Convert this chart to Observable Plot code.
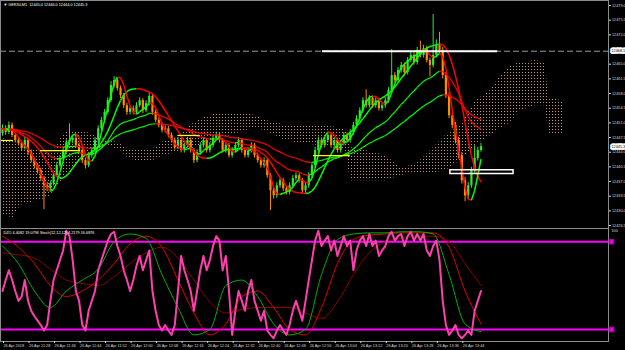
<!DOCTYPE html>
<html><head><meta charset="utf-8">
<script src="https://cdn.jsdelivr.net/npm/d3@7"></script>
<script src="https://cdn.jsdelivr.net/npm/@observablehq/plot@0.6"></script>
<style>
html,body{margin:0;padding:0;background:#000;}
#chart{width:625px;height:350px;background:#000;overflow:hidden;}
#chart svg{display:block;}
</style></head><body><div id="chart"></div>
<script>
// ---------- data ----------
const symbolTitle = "\u25BC GER30,M1  12445.0 12446.0 12444.0 12445.3";
const oscTitle = "DZO 4.4082 19.0796 Stoch(12,12,12) 4.2179 16.6876";
const tickBars = [0,8,16,24,32,40,48,56,64,72,80,88,96,104,112,120,128,136,144];
const timeLabels = ["26 Apr 2018","26 Apr 11:28","26 Apr 11:36","26 Apr 11:44","26 Apr 11:52","26 Apr 12:00","26 Apr 12:08","26 Apr 12:16","26 Apr 12:24","26 Apr 12:32","26 Apr 12:40","26 Apr 12:48","26 Apr 12:56","26 Apr 13:04","26 Apr 13:12","26 Apr 13:20","26 Apr 13:28","26 Apr 13:36","26 Apr 13:44"];
const priceTicks = [12479.0,12475.5,12472.0,12465.0,12461.5,12458.0,12454.5,12451.0,12447.5,12444.0,12440.5,12437.0,12433.5,12430.0,12426.5];
const firstOpen = 12448.5;
const closes = [12449.6,12448.7,12450.4,12448.0,12446.8,12446.1,12444.9,12446.8,12443.9,12442.0,
12440.8,12439.6,12437.7,12436.0,12435.3,12436.5,12438.4,12440.8,12442.5,12444.4,
12446.3,12446.8,12447.3,12445.6,12444.4,12442.0,12440.8,12443.2,12444.4,12446.8,
12449.6,12451.6,12453.5,12456.3,12459.9,12461.1,12459.2,12457.5,12455.1,12453.5,
12454.4,12453.5,12455.1,12456.3,12453.9,12455.6,12457.3,12453.5,12451.6,12450.4,
12449.2,12449.6,12448.0,12446.8,12445.1,12446.8,12444.4,12445.6,12446.8,12444.4,
12442.0,12443.9,12445.6,12446.8,12444.4,12445.6,12447.3,12448.0,12446.8,12444.4,
12445.6,12443.2,12444.4,12445.6,12446.8,12444.4,12443.2,12444.4,12445.6,12443.2,
12442.0,12440.8,12442.0,12438.4,12434.8,12433.6,12436.0,12437.2,12435.3,12434.4,
12436.0,12437.7,12438.4,12437.2,12434.8,12436.0,12438.4,12440.8,12444.4,12446.8,
12445.6,12446.8,12448.0,12445.6,12446.8,12444.4,12446.1,12448.0,12446.8,12448.7,
12450.4,12452.0,12453.9,12456.3,12455.1,12456.8,12455.1,12456.3,12454.4,12455.1,
12456.3,12458.7,12462.3,12461.1,12463.5,12464.7,12463.0,12465.9,12467.1,12465.4,
12468.3,12467.1,12468.7,12465.9,12464.7,12467.1,12469.5,12468.3,12462.3,12457.5,
12452.7,12450.4,12446.8,12443.2,12437.2,12433.6,12436.0,12439.6,12442.5,12444.4,
12445.3];
const highs = [12450.5,12450.3,12451.2,12451.0,12448.6,12447.5,12446.6,12447.6,12447.2,12444.5,
12442.6,12441.3,12440.2,12438.3,12436.8,12437.1,12439.0,12441.5,12443.2,12445.0,
12447.0,12450.8,12448.0,12447.9,12446.2,12445.0,12442.6,12443.9,12445.0,12447.5,
12450.3,12452.3,12454.2,12457.0,12460.8,12462.0,12461.7,12459.8,12458.0,12455.7,
12455.0,12455.0,12455.8,12457.0,12456.8,12456.3,12458.2,12457.8,12454.0,12452.2,
12451.0,12450.3,12450.2,12448.6,12447.4,12447.5,12447.3,12446.2,12447.5,12447.4,
12444.9,12444.6,12446.3,12447.5,12447.3,12446.3,12448.0,12448.8,12448.6,12447.3,
12446.3,12446.1,12445.1,12446.3,12447.5,12447.3,12445.0,12445.1,12446.3,12446.1,
12443.8,12442.6,12442.7,12442.6,12438.9,12435.4,12436.7,12437.9,12437.8,12435.9,
12436.7,12438.4,12439.1,12439.0,12437.8,12436.7,12439.1,12441.5,12445.2,12447.6,
12447.4,12447.5,12448.8,12448.6,12447.5,12447.3,12446.8,12448.7,12448.6,12449.4,
12451.1,12452.7,12454.6,12457.0,12458.9,12457.5,12457.4,12457.0,12456.9,12455.8,
12457.0,12459.4,12468.5,12463.0,12464.2,12465.4,12465.3,12466.6,12467.9,12467.7,
12469.0,12470.5,12469.5,12469.3,12466.5,12476.9,12470.8,12472.6,12469.0,12463.0,
12458.2,12453.4,12451.1,12447.5,12443.9,12438.0,12436.8,12440.4,12445.5,12445.2,
12446.1];
const lows = [12447.8,12448.0,12448.2,12447.5,12446.2,12445.5,12444.2,12444.5,12443.2,12441.4,
12440.0,12438.8,12437.0,12430.3,12434.6,12434.8,12436.0,12438.0,12440.2,12442.0,
12443.8,12445.8,12446.0,12445.0,12443.8,12441.3,12440.0,12440.3,12442.6,12443.9,
12446.2,12449.0,12451.0,12453.0,12455.8,12459.3,12458.6,12456.8,12454.4,12452.8,
12452.9,12452.9,12453.0,12454.6,12453.2,12453.4,12455.0,12452.8,12451.0,12449.8,
12448.6,12448.6,12447.4,12446.2,12444.5,12444.6,12443.8,12443.8,12445.0,12443.8,
12441.3,12441.5,12443.3,12445.0,12443.8,12443.8,12445.0,12446.8,12446.2,12443.8,
12443.8,12442.6,12442.6,12443.8,12445.0,12443.8,12442.6,12442.6,12443.8,12442.6,
12441.4,12440.2,12440.2,12437.8,12430.1,12432.8,12433.0,12435.4,12434.6,12433.8,
12433.8,12435.4,12437.1,12436.6,12434.1,12434.2,12435.4,12437.8,12440.2,12443.8,
12445.0,12445.0,12446.2,12445.0,12445.0,12443.8,12443.8,12445.5,12446.2,12446.2,
12448.1,12449.8,12451.4,12453.3,12454.5,12454.5,12454.5,12454.5,12453.8,12453.8,
12454.5,12455.7,12458.1,12460.5,12460.5,12462.9,12462.2,12462.4,12465.3,12464.8,
12464.8,12466.5,12466.5,12465.3,12462.0,12464.1,12466.5,12467.5,12461.5,12456.8,
12452.0,12449.6,12446.0,12442.4,12436.4,12432.2,12432.8,12435.4,12439.0,12441.9,
12444.0];
// Ichimoku cloud edges (bar index, upper price, lower price)
const cloudBars   = [-0.6,3.4,5.6,8.8,11.9,15,17.2,19.1,21.3,24.5,27.6,30.7,33.9,37,39.2,43.3,47.3,51.1,55.8,58.9,62.1,66.8,71.5,76.2,79.3,82.4,85.6,88.7,93.4,99.7,107.5,109.1,113.8,120.1,124.8,127.9,131,134.2,138.9,143.6,148.3,153,156.1,159.2,162.4,167.1,170.2,171.2,175.9];
const cloudUpper  = [12447.3,12446.8,12446.1,12444.9,12444.4,12443.9,12445.6,12448.4,12449.2,12449.2,12448.4,12447.3,12446.8,12446.1,12444.9,12444.4,12444.9,12446.8,12448.0,12450.4,12452.0,12453.2,12453.5,12453.5,12452.7,12451.6,12451.1,12450.4,12450.4,12450.4,12449.6,12445.1,12444.4,12443.2,12440.3,12440.8,12442.0,12444.4,12448.0,12450.4,12456.3,12458.7,12462.3,12464.7,12465.4,12465.9,12465.4,12456.8,12456.3];
const cloudLower  = [12428.9,12428.4,12431.3,12432.0,12432.5,12433.6,12436.0,12437.7,12439.6,12442.0,12444.4,12444.9,12445.3,12444.4,12442.7,12441.5,12442.0,12443.2,12444.4,12444.4,12445.6,12446.8,12448.0,12449.2,12449.6,12449.2,12448.0,12446.8,12446.1,12445.6,12444.4,12437.2,12437.2,12437.2,12438.4,12438.9,12438.9,12438.9,12439.6,12442.0,12445.6,12448.0,12449.6,12451.1,12453.9,12455.1,12455.1,12448.4,12448.0];
// yellow (kijun-like) flat segments
const yellowStart = [-0.6,11.9,55,97.5];
const yellowEnd   = [3.4,24.5,62,109];
const yellowPrice = [12446.8,12444.4,12448.0,12443.2];
// drawn objects
const hLinePrice = 12468.1;
const trendBars = [100.3,155.2];
const boxBars = [140.4,160.2];
const boxPrices = [12438.8,12439.7];
const bidPrice = 12445.3;
// oscillator panel
const dzValues = [45,55,64,55,45,36,40,55,36,27,22,18,14,9,14,36,55,64,73,82,
100,95,73,45,36,14,9,27,36,45,64,73,82,91,97,99,86,77,64,55,
45,55,68,77,64,73,82,45,27,14,9,14,9,5,14,45,77,64,55,45,
27,45,64,77,64,73,86,95,91,64,77,45,5,27,45,36,27,45,55,36,
27,18,27,9,5,2,9,14,9,5,14,27,36,27,18,36,55,73,91,100,
86,91,95,82,91,77,86,95,86,91,64,82,91,95,86,97,86,91,77,82,
86,95,99,91,95,97,86,95,99,91,97,91,97,82,77,86,91,73,36,14,
5,9,14,5,2,5,9,5,27,36,45];
const sigBars = [0,5,10,15,20,25,30,35,40,45,50,55,60,65,70,75,80,85,90,95,100,105,110,115,120,125,130,135,140,145,150];
const sigGreen = [86,70,45,30,45,55,65,90,97,93,60,30,5,10,50,55,40,15,5,10,60,92,97,98,98,99,99,97,60,15,8];
const sigRed   = [95,85,70,50,40,45,55,70,88,95,85,55,25,5,15,40,45,30,10,5,30,70,92,96,97,98,98,98,85,45,15];
const sigDark  = [80,78,75,65,55,52,50,58,70,80,85,75,55,35,25,28,30,30,30,25,20,35,60,80,90,93,95,95,90,70,50];
const levels = [90,10];

// ---------- helpers ----------
const opens = [firstOpen, ...closes.slice(0, -1)];
const bars = closes.map((c, i) => ({i, open: opens[i], close: c, high: highs[i], low: lows[i]}));
function wma(a, n){return a.map((_, i) => {let s = 0, w = 0; for (let k = 0; k < n && i - k >= 0; k++){const wt = n - k; s += a[i-k]*wt; w += wt;} return s / w;});}
function hma(a, n){const h = wma(a, Math.round(n/2)), f = wma(a, n); return wma(h.map((v, i) => 2*v - f[i]), Math.round(Math.sqrt(n)));}
function ema(a, n){const k = 2/(n+1), out = []; a.forEach((v, i) => out.push(i ? out[i-1] + k*(v - out[i-1]) : v)); return out;}
function segs(v){const s = []; for (let i = 0; i + 1 < v.length; i++) s.push({x1: i, y1: v[i], x2: i+1, y2: v[i+1], up: v[i+1] >= v[i]}); return s;}
const maFast = segs(hma(closes, 10));
const maMid = segs(hma(closes, 30));
const maSlow = segs(ema(closes, 21));
const maSlow2 = segs(ema(closes, 45));
const cloud = cloudBars.map((b, i) => ({bar: b, top: cloudUpper[i], bottom: cloudLower[i]}));
const yellow = yellowPrice.map((p, i) => ({start: yellowStart[i], end: yellowEnd[i], price: p}));
const dzRows = dzValues.map((v, i) => ({i, v}));
const sigRows = sigBars.map((b, i) => ({bar: b, g: sigGreen[i], r: sigRed[i], d: sigDark[i]}));

const GREEN = "#00ff00", RED = "#ff0000", BULL = "#32e632", BEAR = "#ff8c00";
const xDomain = [-0.63, 189.97];
const font = "Liberation Sans, Arial, sans-serif";
const fs = 3.8;

const maMark = (data, upColor, downColor, w) => Plot.link(data, {x1: "x1", y1: "y1", x2: "x2", y2: "y2", stroke: d => d.up ? upColor : downColor, strokeWidth: w});

const topPlot = Plot.plot({
  width: 625, height: 228, marginLeft: 0, marginRight: 17, marginTop: 0, marginBottom: 0,
  style: {background: "#000", fontFamily: font, fontSize: fs + "px", color: "#d8d8d8"},
  x: {domain: xDomain, axis: null},
  y: {domain: [12425.8, 12480.2], axis: null},
  color: {type: "identity"},
  marks: [
    Plot.areaY(cloud, {x: "bar", y1: "bottom", y2: "top", fill: "url(#ichiDots)"}),
    Plot.ruleY([hLinePrice], {stroke: "#9a9a9a", strokeDasharray: "6,3", strokeWidth: 1}),
    Plot.ruleX(bars, {x: "i", y1: "low", y2: "high", stroke: d => d.close >= d.open ? BULL : BEAR, strokeWidth: 1}),
    Plot.ruleX(bars, {x: "i", y1: "open", y2: "close", stroke: d => d.close >= d.open ? BULL : BEAR, strokeWidth: 2.2}),
    maMark(maSlow2, GREEN, RED, 1.2),
    maMark(maSlow, GREEN, RED, 1.2),
    maMark(maMid, GREEN, RED, 1.5),
    maMark(maFast, GREEN, RED, 1.5),
    Plot.ruleY(yellow, {y: "price", x1: "start", x2: "end", stroke: "#ffff00", strokeWidth: 1.3}),
    Plot.ruleY([hLinePrice], {x1: trendBars[0], x2: trendBars[1], stroke: "#ffffff", strokeWidth: 2}),
    Plot.rect([0], {x1: boxBars[0], x2: boxBars[1], y1: boxPrices[0], y2: boxPrices[1], fill: "none", stroke: "#ffffff", strokeWidth: 1.5}),
    Plot.frame({stroke: "#8c8c8c"}),
    Plot.axisY(priceTicks, {anchor: "right", tickSize: 2, tickPadding: 1.5, tickFormat: d => d.toFixed(1), fontSize: fs}),
    Plot.text([hLinePrice], {y: d => d, frameAnchor: "right", dx: 3, textAnchor: "start", text: d => d.toFixed(1), fill: "#000", stroke: "#fff", strokeWidth: 3.5, paintOrder: "stroke", fontSize: fs}),
    Plot.text([bidPrice], {y: d => d, frameAnchor: "right", dx: 3, textAnchor: "start", text: d => d.toFixed(1), fill: "#000", stroke: "#fff", strokeWidth: 3.5, paintOrder: "stroke", fontSize: fs}),
    Plot.text([symbolTitle], {frameAnchor: "top-left", dx: 3, dy: 3, textAnchor: "start", fill: "#fff", fontSize: fs})
  ]
});
const defs = d3.select(topPlot).insert("defs", ":first-child");
const pat = defs.append("pattern").attr("id", "ichiDots").attr("width", 3).attr("height", 3).attr("patternUnits", "userSpaceOnUse");
pat.append("rect").attr("width", 1).attr("height", 1).attr("fill", "#c89466");

const botPlot = Plot.plot({
  width: 625, height: 122, marginLeft: 0, marginRight: 17, marginTop: 0, marginBottom: 9,
  style: {background: "#000", fontFamily: font, fontSize: fs + "px", color: "#d8d8d8"},
  x: {domain: xDomain, axis: null},
  y: {domain: [-1, 102], axis: null},
  marks: [
    Plot.ruleY(levels, {stroke: "#ff00ff", strokeWidth: 2}),
    Plot.line(sigRows, {x: "bar", y: "d", stroke: "#8b0000", strokeWidth: 1, curve: "monotone-x"}),
    Plot.line(sigRows, {x: "bar", y: "r", stroke: "#e00000", strokeWidth: 1, curve: "monotone-x"}),
    Plot.line(sigRows, {x: "bar", y: "g", stroke: "#00b000", strokeWidth: 1, curve: "monotone-x"}),
    Plot.line(dzRows, {x: "i", y: "v", stroke: "#ff3fae", strokeWidth: 2}),
    Plot.frame({stroke: "#8c8c8c"}),
    Plot.axisY([100], {anchor: "right", tickSize: 0, tickPadding: 3, fontSize: fs}),
    Plot.dot(levels, {y: d => d, frameAnchor: "right", dx: 3, symbol: "square", r: 2.3, fill: "#ff00ff", stroke: "#b000b0"}),
    Plot.axisX(tickBars, {anchor: "bottom", tickSize: 2, tickPadding: 1, tickFormat: d => timeLabels[tickBars.indexOf(d)], textAnchor: "start", dx: 1, fontSize: fs}),
    Plot.text([oscTitle], {frameAnchor: "top-left", dx: 3, dy: 3, textAnchor: "start", fill: "#fff", fontSize: fs})
  ]
});
const host = document.getElementById("chart");
host.appendChild(topPlot);
host.appendChild(botPlot);
</script>
</body></html>
